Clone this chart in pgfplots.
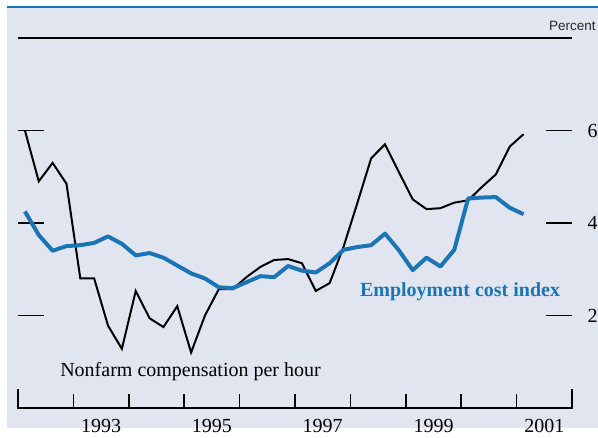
\documentclass[border=0pt]{standalone}
\usepackage{fontspec}
\setmainfont{Liberation Serif}
\newfontfamily\pctfont{Liberation Sans}
\usepackage{pgfplots}
\pgfplotsset{compat=1.18}
\definecolor{bg}{RGB}{225,229,240}
\definecolor{ecblue}{RGB}{27,117,181}
\definecolor{pctgray}{RGB}{40,40,40}
\pgfplotstableread{
x y
1992.125 6.00
1992.375 4.90
1992.625 5.30
1992.875 4.85
1993.125 2.80
1993.375 2.80
1993.625 1.78
1993.875 1.28
1994.125 2.53
1994.375 1.94
1994.625 1.75
1994.875 2.20
1995.125 1.20
1995.375 2.00
1995.625 2.57
1995.875 2.57
1996.125 2.83
1996.375 3.05
1996.625 3.20
1996.875 3.22
1997.125 3.13
1997.375 2.53
1997.625 2.70
1997.875 3.48
1998.125 4.43
1998.375 5.40
1998.625 5.70
1998.875 5.10
1999.125 4.51
1999.375 4.30
1999.625 4.32
1999.875 4.44
2000.125 4.49
2000.375 4.78
2000.625 5.05
2000.875 5.65
2001.125 5.92
}\nonfarm
\pgfplotstableread{
x y
1992.125 4.25
1992.375 3.74
1992.625 3.40
1992.875 3.50
1993.125 3.52
1993.375 3.57
1993.625 3.71
1993.875 3.55
1994.125 3.30
1994.375 3.35
1994.625 3.25
1994.875 3.08
1995.125 2.91
1995.375 2.80
1995.625 2.61
1995.875 2.59
1996.125 2.72
1996.375 2.85
1996.625 2.83
1996.875 3.07
1997.125 2.97
1997.375 2.93
1997.625 3.13
1997.875 3.42
1998.125 3.48
1998.375 3.52
1998.625 3.77
1998.875 3.41
1999.125 2.98
1999.375 3.25
1999.625 3.06
1999.875 3.42
2000.125 4.53
2000.375 4.55
2000.625 4.56
2000.875 4.33
2001.125 4.19
}\eci
\begin{document}
\begin{tikzpicture}[x=1pt,y=1pt]
\useasboundingbox (0,0) rectangle (598,438);
\fill[bg] (7,10) rectangle (598,431);
\draw[ecblue, line width=2.5pt] (7,431) -- (598,431);
\begin{axis}[
  at={(18pt,30pt)}, anchor=south west,
  scale only axis, width=554pt, height=370pt,
  xmin=1992, xmax=2002, ymin=0, ymax=8,
  clip=false,
  axis line style={draw=none},
  xtick={1993.5,1995.5,1997.5,1999.5,2001.5},
  xticklabels={1993,1995,1997,1999,2001},
  xtick pos=bottom,
  major x tick style={draw=none},
  major tick length=26pt,
  tick align=inside,
  ytick={2,4,6},
  yticklabels={2,4,6},
  ytick pos=both,
  yticklabel pos=right,
  minor tick num=0,
  tick style={line width=1.2pt, black},
  x tick label style={font=\fontsize{20}{22}\selectfont, yshift=-8pt},
  y tick label style={font=\fontsize{20}{22}\selectfont, xshift=12pt},
]
\addplot[black, line width=2pt, mark=none] table[x=x,y=y] {\nonfarm};
\addplot[ecblue, line width=4pt, mark=none, line join=round] table[x=x,y=y] {\eci};
\draw[line width=1.4pt] (axis cs:1992,0.41) -- (axis cs:1992,0) -- (axis cs:2002,0) -- (axis cs:2002,0.41);
\draw[line width=1.6pt, black] (axis cs:1993,0) -- (axis cs:1993,0.30);
\draw[line width=1.6pt, black] (axis cs:1994,0) -- (axis cs:1994,0.30);
\draw[line width=1.6pt, black] (axis cs:1995,0) -- (axis cs:1995,0.30);
\draw[line width=1.6pt, black] (axis cs:1996,0) -- (axis cs:1996,0.30);
\draw[line width=1.6pt, black] (axis cs:1997,0) -- (axis cs:1997,0.30);
\draw[line width=1.6pt, black] (axis cs:1998,0) -- (axis cs:1998,0.30);
\draw[line width=1.6pt, black] (axis cs:1999,0) -- (axis cs:1999,0.30);
\draw[line width=1.6pt, black] (axis cs:2000,0) -- (axis cs:2000,0.30);
\draw[line width=1.6pt, black] (axis cs:2001,0) -- (axis cs:2001,0.30);
\draw[line width=1.3pt] (axis cs:1992,8) -- (axis cs:2002,8);
\node[anchor=base west, font=\fontsize{20}{22}\selectfont, inner sep=0pt] at (axis cs:1992.76,0.69) {Nonfarm compensation per hour};
\node[anchor=base west, font=\fontsize{20}{22}\selectfont\bfseries, text=ecblue, inner sep=0pt] at (axis cs:1998.17,2.42) {Employment cost index};
\node[anchor=base east, font=\pctfont\fontsize{13.5}{15}\selectfont, text=pctgray, inner sep=0pt] at (axis cs:2002.43,8.17) {Percent};
\end{axis}
\end{tikzpicture}
\end{document}
